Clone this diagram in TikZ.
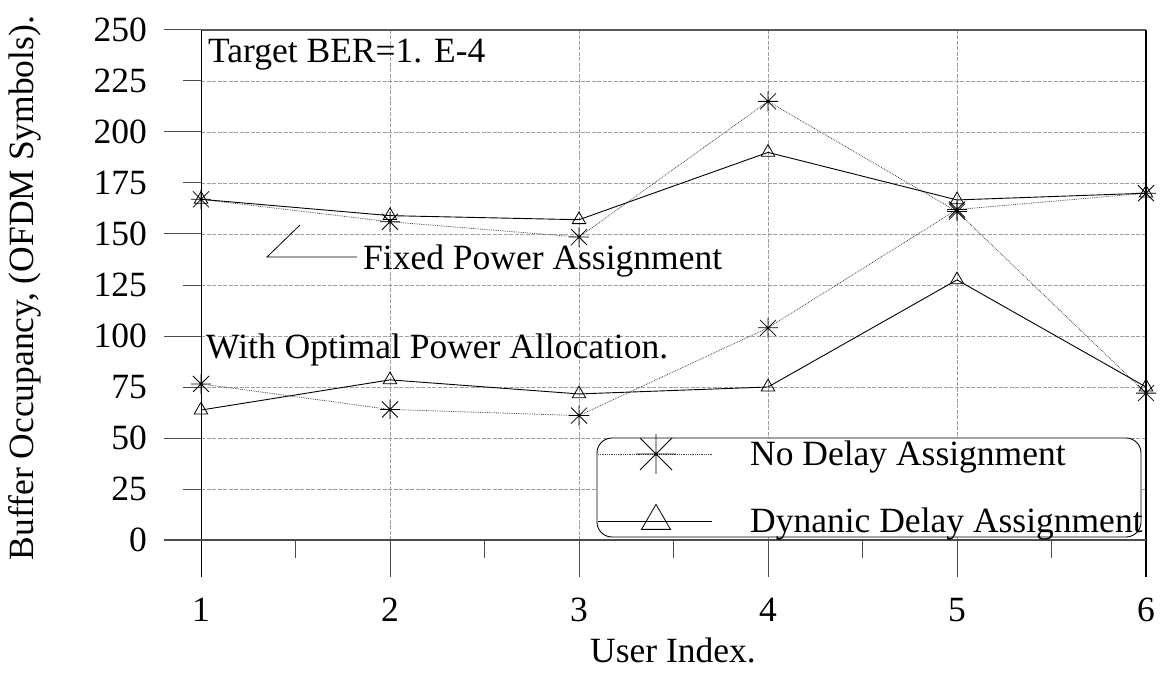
\documentclass[tikz,border=0pt]{standalone}
\usepackage{fontspec}
\setmainfont{Liberation Serif}
\usetikzlibrary{plotmarks}
\pgfdeclareplotmark{star8}{%
  \pgfpathmoveto{\pgfqpoint{-\pgfplotmarksize}{0pt}}\pgfpathlineto{\pgfqpoint{\pgfplotmarksize}{0pt}}%
  \pgfpathmoveto{\pgfqpoint{0pt}{-\pgfplotmarksize}}\pgfpathlineto{\pgfqpoint{0pt}{\pgfplotmarksize}}%
  \pgfpathmoveto{\pgfqpoint{-0.8\pgfplotmarksize}{-0.8\pgfplotmarksize}}\pgfpathlineto{\pgfqpoint{0.8\pgfplotmarksize}{0.8\pgfplotmarksize}}%
  \pgfpathmoveto{\pgfqpoint{-0.8\pgfplotmarksize}{0.8\pgfplotmarksize}}\pgfpathlineto{\pgfqpoint{0.8\pgfplotmarksize}{-0.8\pgfplotmarksize}}%
  \pgfusepathqstroke}
\tikzset{
  gridln/.style={gray!75, line width=0.6pt, dash pattern=on 4pt off 1.5pt},
  tickln/.style={black!70, line width=1pt},
  lbl/.style={font=\fontsize{35.5}{40}\selectfont, inner sep=0pt},
  nodelay/.style={gray!55!black, line width=0.8pt, densely dotted},
  dynamic/.style={black, line width=0.9pt},
  starmk/.style={mark=star8, mark size=10pt, mark options={solid, black, line width=0.8pt}},
  trimk/.style={mark=triangle, mark size=7.8pt, mark options={solid, black, line width=0.8pt}},
}
\begin{document}
\begin{tikzpicture}[x=1pt,y=1pt]
\useasboundingbox (0,0) rectangle (1167,673);
% ---------- data coordinate system ----------
\begin{scope}[shift={(12pt,133pt)}, x=189pt, y=2.04pt]
  \foreach \v in {25,50,...,225} \draw[gridln] (1,\v) -- (6,\v);
  \foreach \u in {2,3,4,5} \draw[gridln] (\u,0) -- (\u,250);
  \draw[gray!70!black, line width=1.2pt] (1,250) -- (6,250);
  \draw[black, line width=1.2pt] (6,250) -- (6,-18.1);
  \draw[black, line width=1pt] (1,250) -- (1,-18.1);
  \draw[gray!60!black, line width=1.6pt] (0.804,0) -- (6,0);
  \foreach \v in {50,100,...,250} \draw[tickln] (0.804,\v) -- (1,\v);
  \foreach \v in {25,75,...,225} \draw[tickln] (0.905,\v) -- (1,\v);
  \foreach \u in {2,...,5} \draw[tickln] (\u,0) -- (\u,-18.1);
  \foreach \u in {1.5,2.5,3.5,4.5,5.5} \draw[tickln] (\u,0) -- (\u,-8.8);
  \foreach \v in {0,25,...,250} \node[lbl, anchor=east] (yl\v) at ([xshift=-54pt]1,\v) {\v};
  \foreach \u in {1,...,6} \node[lbl] (xl\u) at ([yshift=-70pt]\u,0) {\u};
  % series
  \draw[nodelay] plot[starmk] coordinates {(1,167) (2,156) (3,148.5) (4,215) (5,161) (6,72)};
  \draw[nodelay] plot[starmk] coordinates {(1,76.5) (2,64) (3,61) (4,104) (5,162) (6,170)};
  \draw[dynamic] plot[trimk] coordinates {(1,167) (2,159) (3,157) (4,190) (5,166.7) (6,170)};
  \draw[dynamic] plot[trimk] coordinates {(1,63.7) (2,78.5) (3,71.6) (4,75) (5,127.5) (6,75)};
\end{scope}
% ---------- pixel coordinate system (y down) ----------
\begin{scope}[shift={(0pt,673pt)}, x=1pt, y=-1pt]
  \node[lbl, rotate=90] (ylabel) at (25,288) {Buffer Occupancy, (OFDM Symbols).};
  \node[lbl] (xlabel) at (673,650) {User Index.};
  \node[lbl, anchor=base west] (target) at (208,63) {Target BER=1. E-4};
  \node[lbl, anchor=base west] (fixed) at (363,270) {Fixed Power Assignment};
  \coordinate (fx1) at (300,225);
  \coordinate (fx2) at (267,257);
  \coordinate (fx3) at (357,257);
  \draw[black, line width=0.8pt] (fx1) -- (fx2) -- (fx3);
  \node[lbl, anchor=base west] (optimal) at (206,358) {With Optimal Power Allocation.};
  % legend
  \draw[fill=white, rounded corners=15pt, line width=0.9pt] (597,438) rectangle (1141,537);
  \coordinate (l1a) at (598,454); \coordinate (l1b) at (712,454);
  \coordinate (l2a) at (598,521); \coordinate (l2b) at (712,521);
  \draw[nodelay] (l1a) -- (l1b);
  \draw[dynamic] (l2a) -- (l2b);
  \draw plot[mark=star8, mark size=20pt, mark options={black, line width=0.8pt}] coordinates {(656,454)};
  \draw plot[mark=triangle, mark size=16.7pt, mark options={black, line width=0.8pt}] coordinates {(656,521)};
  \node[lbl, anchor=base west] (leg1) at (750,465) {No Delay Assignment};
  \node[lbl, anchor=base west] (leg2) at (750,532) {Dynanic Delay Assignment};
\end{scope}
\end{tikzpicture}
\end{document}
